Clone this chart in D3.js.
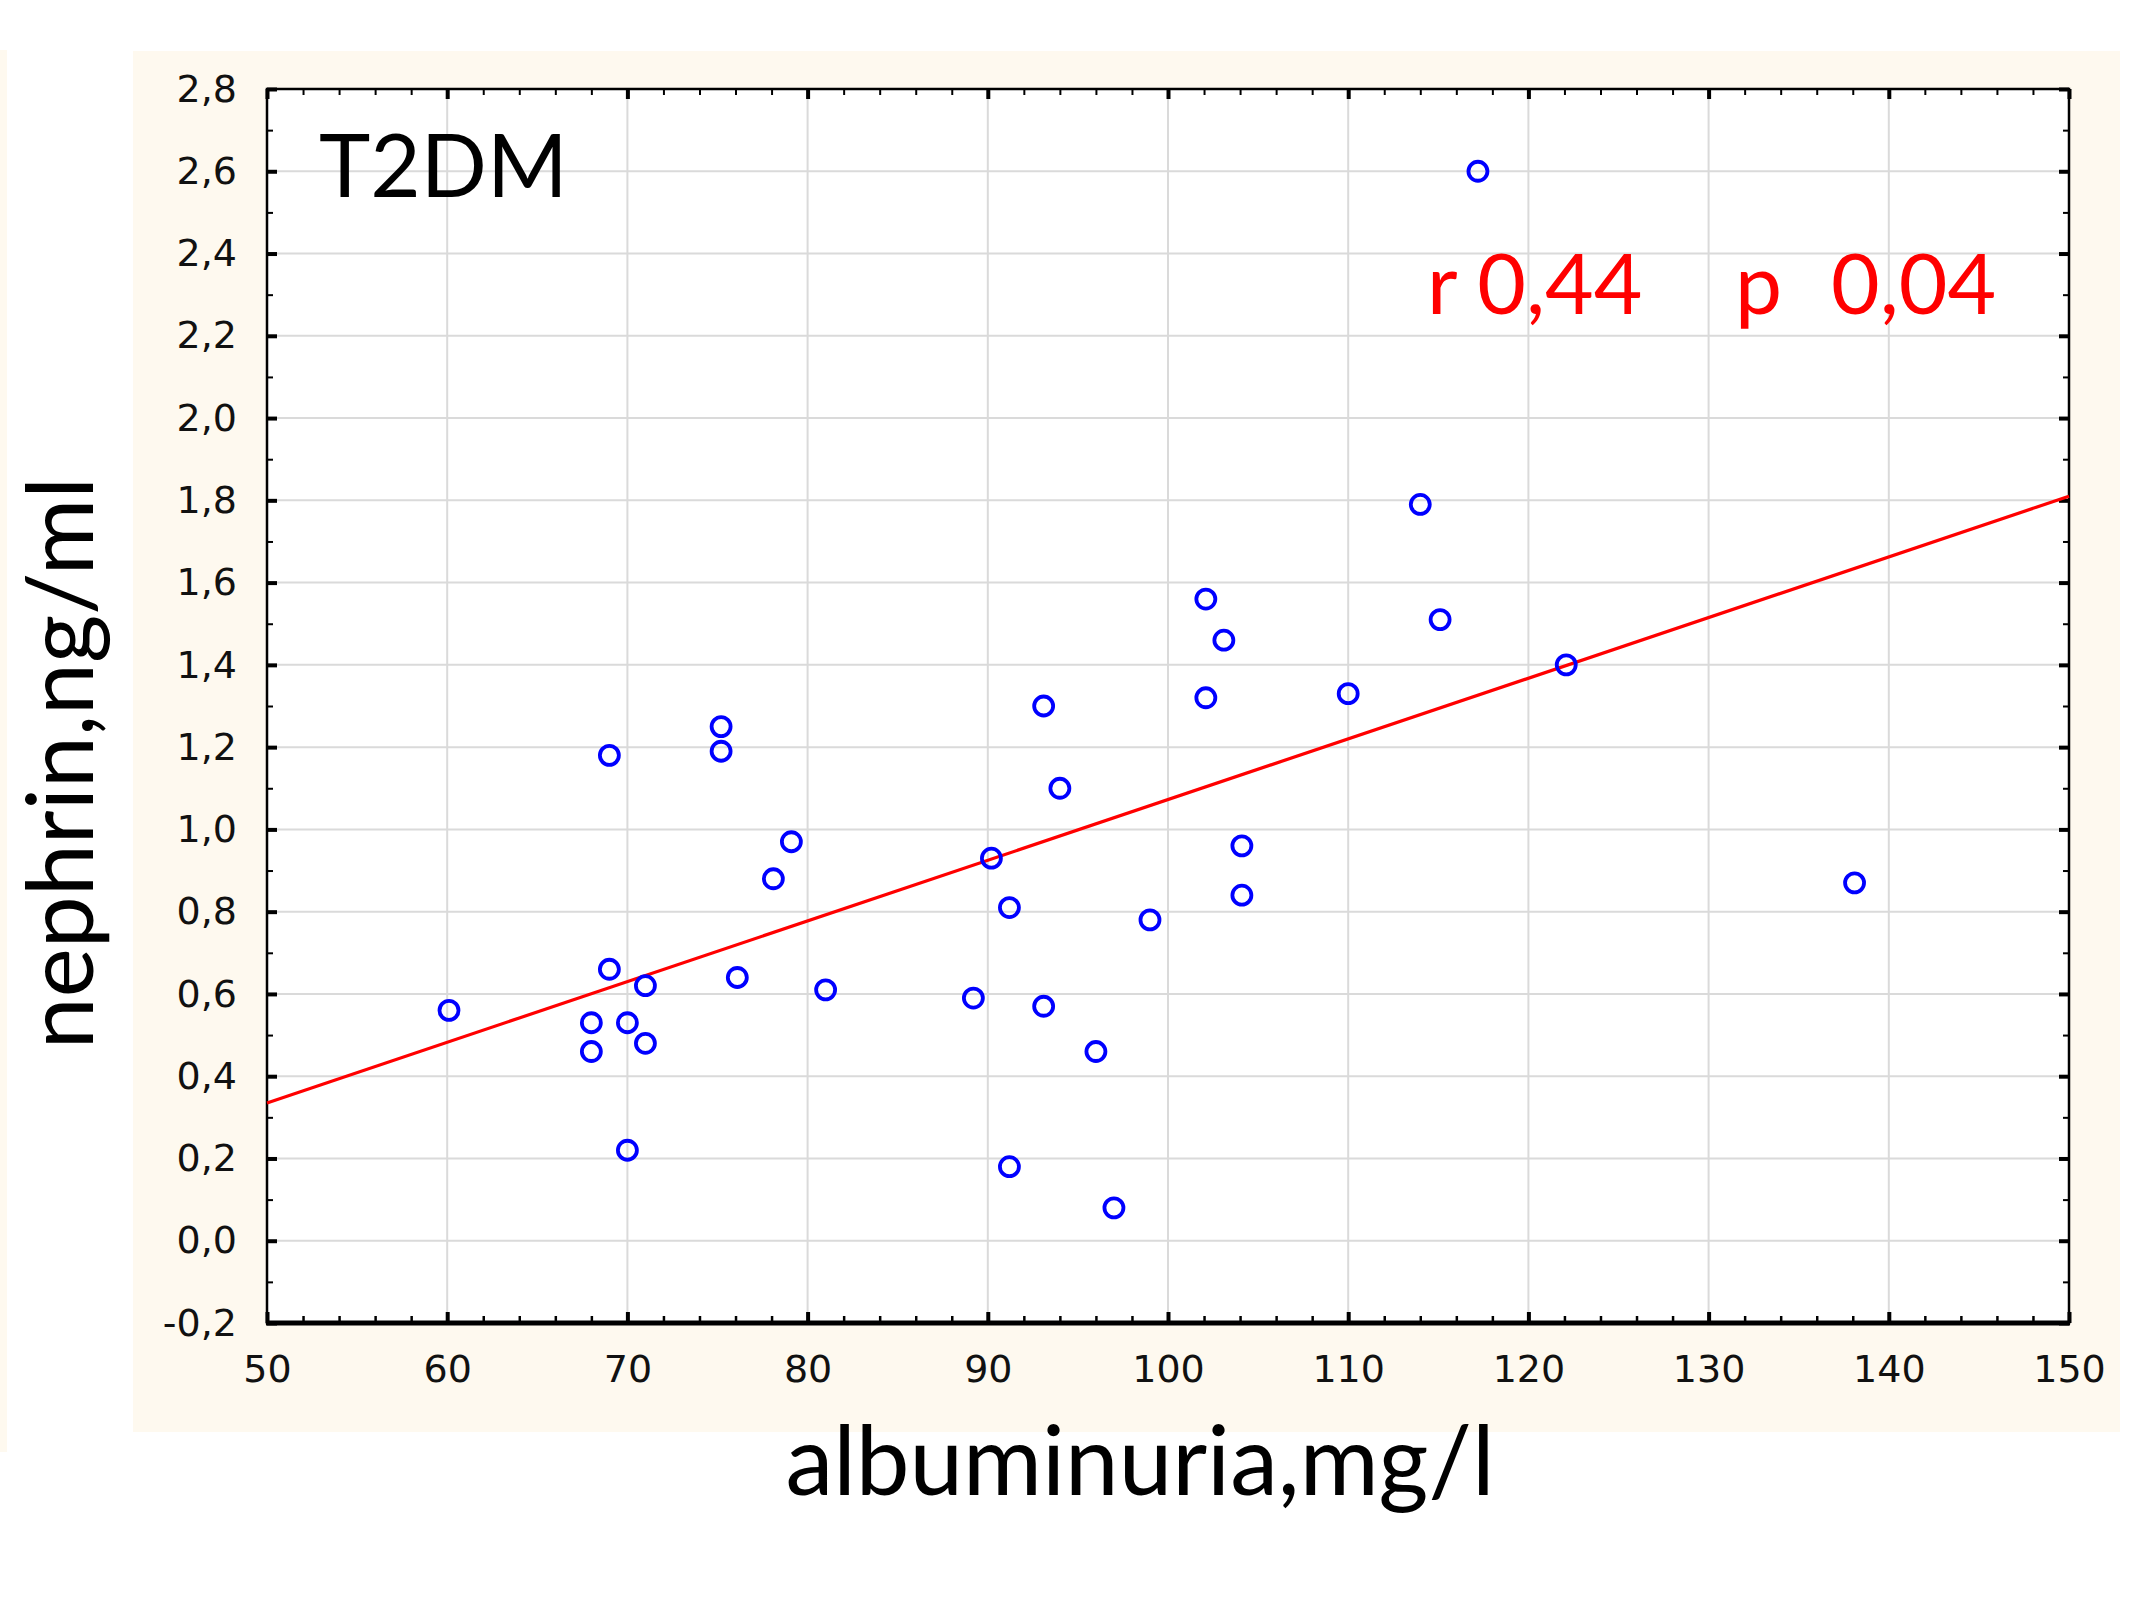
<!DOCTYPE html>
<html>
<head>
<meta charset="utf-8">
<script src="https://cdn.jsdelivr.net/npm/d3@7"></script>
<style>
  body { margin: 0; background: #fff; }
  svg { display: block; }
</style>
</head>
<body>
<div id="chart"></div>
<script>
// values
const albuminuria = [60.1, 69.0, 69.0, 68.0, 68.0, 70.0, 71.0, 71.0, 70.0, 75.2, 75.2, 76.1,
    78.1, 79.1, 81.0, 89.2, 90.2, 91.2, 91.2, 93.1, 93.1, 94.0, 96.0, 97.0,
    99.0, 102.1, 103.1, 102.1, 104.1, 104.1, 110.0, 114.0, 115.1, 117.2, 122.1, 138.1];
const nephrin = [0.56, 1.18, 0.66, 0.53, 0.46, 0.53, 0.62, 0.48, 0.22, 1.25, 1.19, 0.64,
    0.88, 0.97, 0.61, 0.59, 0.93, 0.81, 0.18, 1.30, 0.57, 1.10, 0.46, 0.08,
    0.78, 1.56, 1.46, 1.32, 0.96, 0.84, 1.33, 1.79, 1.51, 2.60, 1.40, 0.87];

// regression line end points
const fitX = [50, 150];
const fitY = [0.335, 1.81];

const xTicks = [50, 60, 70, 80, 90, 100, 110, 120, 130, 140, 150];
const yTicks = [-0.2, 0.0, 0.2, 0.4, 0.6, 0.8, 1.0, 1.2, 1.4, 1.6, 1.8, 2.0, 2.2, 2.4, 2.6, 2.8];

const title = 'T2DM';
const statR = 'r 0,44';
const statP = 'p';
const statPVal = '0,04';
const xTitle = 'albuminuria,mg/l';
const yTitle = 'nephrin,ng/ml';

const W = 2147, H = 1605;
const cream = '#fef9ef';
const plotL = 267, plotR = 2069, plotT = 89, plotB = 1323;

const svg = d3.select('#chart').append('svg')
    .attr('width', W).attr('height', H);

svg.append('rect').attr('width', W).attr('height', H).attr('fill', '#fff');
// cream panels
svg.append('rect').attr('x', 0).attr('y', 50).attr('width', 7).attr('height', 1402).attr('fill', cream);
svg.append('rect').attr('x', 133).attr('y', 51).attr('width', 1987).attr('height', 1381).attr('fill', cream);
svg.append('rect').attr('x', plotL).attr('y', plotT).attr('width', plotR - plotL).attr('height', plotB - plotT).attr('fill', '#fff');

const x = d3.scaleLinear().domain([50, 150]).range([plotL, plotR]);
const y = d3.scaleLinear().domain([-0.2, 2.8]).range([plotB, plotT]);

// grid
const grid = svg.append('g').attr('stroke', '#dadada').attr('stroke-width', 2);
grid.selectAll('line.gx')
    .data(xTicks.slice(1, -1))
    .enter().append('line')
    .attr('x1', d => x(d)).attr('x2', d => x(d))
    .attr('y1', plotT).attr('y2', plotB);
grid.selectAll('line.gy')
    .data(yTicks.slice(1, -1))
    .enter().append('line')
    .attr('y1', d => y(d)).attr('y2', d => y(d))
    .attr('x1', plotL).attr('x2', plotR);

const fmtY = d => d.toFixed(1).replace('.', ',');
const xMinor = d3.range(52, 150, 2).filter(v => v % 10 !== 0);
const yMinor = d3.range(-0.1, 2.8, 0.2);

function styleAxis(g, width) {
    g.select('.domain').remove();
    g.selectAll('.tick line').attr('stroke', '#000').attr('stroke-width', width);
    g.selectAll('.tick text')
        .attr('fill', '#111')
        .style('font-family', '"DejaVu Sans", Verdana, sans-serif')
        .style('font-size', '38px');
}

// left axis
svg.append('g').attr('transform', `translate(${plotL},0)`)
    .call(d3.axisLeft(y).tickValues(yTicks).tickFormat(fmtY).tickSize(-10).tickPadding(30))
    .call(g => styleAxis(g, 4));
svg.append('g').attr('transform', `translate(${plotL},0)`)
    .call(d3.axisLeft(y).tickValues(yMinor).tickFormat('').tickSize(-6))
    .call(g => styleAxis(g, 2));
// right axis
svg.append('g').attr('transform', `translate(${plotR},0)`)
    .call(d3.axisRight(y).tickValues(yTicks).tickFormat('').tickSize(-10))
    .call(g => styleAxis(g, 4));
svg.append('g').attr('transform', `translate(${plotR},0)`)
    .call(d3.axisRight(y).tickValues(yMinor).tickFormat('').tickSize(-6))
    .call(g => styleAxis(g, 2));
// bottom axis
svg.append('g').attr('transform', `translate(0,${plotB})`)
    .call(d3.axisBottom(x).tickValues(xTicks).tickFormat(d3.format('d')).tickSize(-11).tickPadding(32))
    .call(g => styleAxis(g, 4));
svg.append('g').attr('transform', `translate(0,${plotB})`)
    .call(d3.axisBottom(x).tickValues(xMinor).tickFormat('').tickSize(-7))
    .call(g => styleAxis(g, 2.5));
// top axis
svg.append('g').attr('transform', `translate(0,${plotT})`)
    .call(d3.axisTop(x).tickValues(xTicks).tickFormat('').tickSize(-10))
    .call(g => styleAxis(g, 4));
svg.append('g').attr('transform', `translate(0,${plotT})`)
    .call(d3.axisTop(x).tickValues(xMinor).tickFormat('').tickSize(-6))
    .call(g => styleAxis(g, 2));

// frame
svg.append('rect')
    .attr('x', plotL).attr('y', plotT)
    .attr('width', plotR - plotL).attr('height', plotB - plotT)
    .attr('fill', 'none').attr('stroke', '#000').attr('stroke-width', 2.5);
svg.append('line')
    .attr('x1', plotL - 1).attr('x2', plotR + 1)
    .attr('y1', plotB).attr('y2', plotB)
    .attr('stroke', '#000').attr('stroke-width', 5);

// regression line
svg.append('line')
    .attr('x1', x(fitX[0])).attr('y1', y(fitY[0]))
    .attr('x2', x(fitX[1])).attr('y2', y(fitY[1]))
    .attr('stroke', '#ff0000').attr('stroke-width', 3.2);

// points
svg.append('g')
    .selectAll('circle')
    .data(albuminuria.map((a, i) => [a, nephrin[i]]))
    .enter().append('circle')
    .attr('cx', d => x(d[0]))
    .attr('cy', d => y(d[1]))
    .attr('r', 9.5)
    .attr('fill', 'none')
    .attr('stroke', '#0000ff')
    .attr('stroke-width', 3.8);

const lato = 'Lato, "Open Sans", sans-serif';

svg.append('text')
    .attr('x', 319).attr('y', 197)
    .style('font-family', lato).style('font-size', '87px')
    .attr('fill', '#000')
    .text(title);

const stats = svg.append('g')
    .style('font-family', lato).style('font-size', '84px')
    .attr('fill', '#ff0000');
stats.append('text').attr('x', 1427).attr('y', 314).text(statR);
stats.append('text').attr('x', 1735).attr('y', 314).text(statP);
stats.append('text').attr('x', 1831).attr('y', 314).text(statPVal);

svg.append('text')
    .attr('x', 1140).attr('y', 1495)
    .attr('text-anchor', 'middle')
    .style('font-family', lato).style('font-size', '96px')
    .attr('fill', '#000')
    .text(xTitle);

svg.append('text')
    .attr('transform', 'translate(93,763) rotate(-90)')
    .attr('text-anchor', 'middle')
    .style('font-family', lato).style('font-size', '93px')
    .attr('fill', '#000')
    .text(yTitle);
</script>
</body>
</html>
